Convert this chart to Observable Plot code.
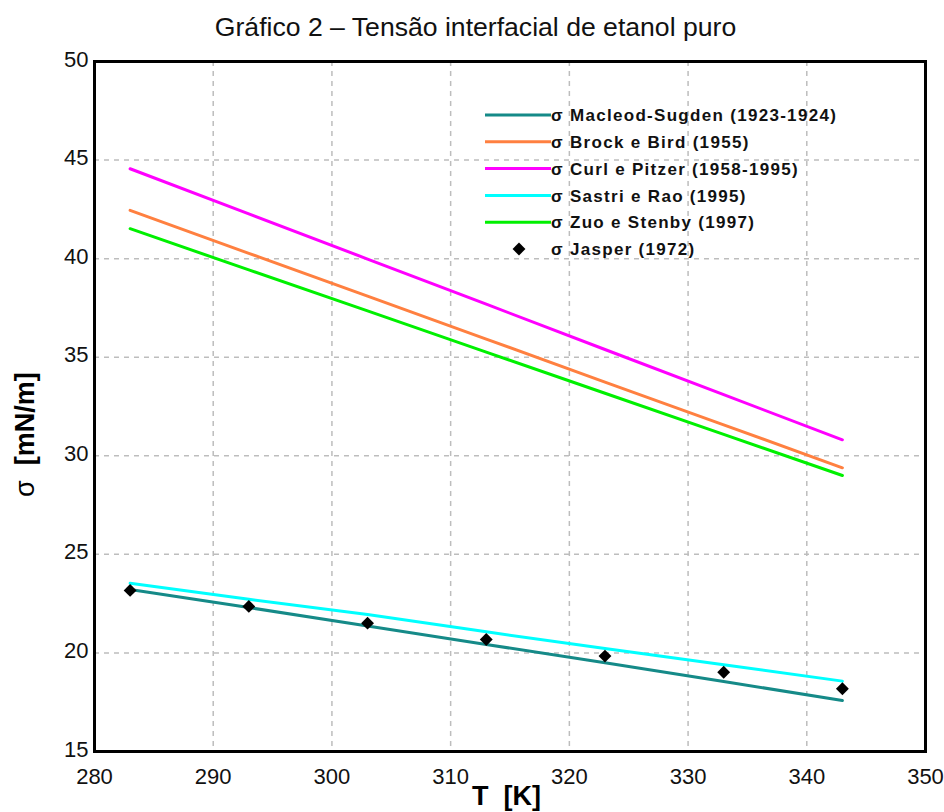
<!DOCTYPE html>
<html>
<head>
<meta charset="utf-8">
<script src="https://cdn.jsdelivr.net/npm/d3@7"></script>
<script src="https://cdn.jsdelivr.net/npm/@observablehq/plot@0.6"></script>
<style>
  html, body { margin: 0; padding: 0; background: #fff; }
  #title {
    width: 944px; height: 44px; box-sizing: border-box;
    padding: 12px 0 0 7px; line-height: 30px; text-align: center;
    font-family: "Liberation Sans", Arial, sans-serif; font-size: 26.6px; color: #111;
  }
  #chart svg { display: block; }
</style>
</head>
<body>
<div id="title">Gráfico 2 – Tensão interfacial de etanol puro</div>
<div id="chart"></div>
<script>
// Temperatures (K) at which each correlation is evaluated
const temps = [283, 293, 303, 313, 323, 333, 343];

// Interfacial tension σ (mN/m) from each correlation
const macleodSugden = [23.22, 22.30, 21.37, 20.43, 19.50, 18.55, 17.59];
const brockBird     = [42.45, 40.27, 38.10, 35.92, 33.74, 31.57, 29.39];
const curlPitzer    = [44.56, 42.27, 39.98, 37.69, 35.39, 33.10, 30.81];
const sastriRao     = [23.54, 22.72, 21.95, 21.07, 20.22, 19.40, 18.57];
const zuoStenby     = [41.52, 39.43, 37.35, 35.26, 33.17, 31.09, 29.00];

// Experimental values
const jasper = [23.17, 22.36, 21.51, 20.68, 19.84, 19.02, 18.18];

// Series names and colours
const seriesNames = [
  "σ Macleod-Sugden (1923-1924)",
  "σ Brock e Bird (1955)",
  "σ Curl e Pitzer (1958-1995)",
  "σ Sastri e Rao (1995)",
  "σ Zuo e Stenby (1997)"
];
const seriesValues = [macleodSugden, brockBird, curlPitzer, sastriRao, zuoStenby];
const seriesColors = ["#158a88", "#ff8040", "#ff00ff", "#00ffff", "#00f000"];
const jasperName = "σ Jasper (1972)";

// Axis ticks
const xTicks = [280, 290, 300, 310, 320, 330, 340, 350];
const yTicks = [15, 20, 25, 30, 35, 40, 45, 50];
const xGrid = [290, 300, 310, 320, 330, 340];
const yGrid = [20, 25, 30, 35, 40, 45];

const gridStyle = {stroke: "#bdbdbd", strokeOpacity: 1, strokeWidth: 1.5, strokeDasharray: "5,5"};
const diamondR = 5.8;

const lines = seriesValues.map((vals, k) =>
  Plot.line(temps, {x: d => d, y: (d, i) => vals[i], stroke: seriesColors[k], strokeWidth: 3})
);

const chart = Plot.plot({
  width: 944,
  height: 768,
  marginTop: 17,
  marginBottom: 61,
  marginLeft: 94,
  marginRight: 19,
  style: {fontFamily: "'Liberation Sans', Arial, sans-serif", fontSize: "22px", color: "#111", background: "#fff", overflow: "visible"},
  x: {domain: [280, 350]},
  y: {domain: [15, 50]},
  marks: [
    Plot.gridX(xGrid, gridStyle),
    Plot.gridY(yGrid, gridStyle),
    ...lines,
    Plot.dot(temps, {x: d => d, y: (d, i) => jasper[i], symbol: "diamond2", r: diamondR, fill: "#000", stroke: "none"}),
    Plot.axisX(xTicks, {tickSize: 0, tickPadding: 17, label: null, fontSize: 22}),
    Plot.axisY(yTicks, {tickSize: 0, tickPadding: 6, label: null, fontSize: 22, dy: -2}),
    Plot.frame({stroke: "#000", strokeWidth: 3})
  ]
});

document.getElementById("chart").appendChild(chart);

const svg = d3.select(chart);
const xs = chart.scale("x");
const font = "'Liberation Sans', Arial, sans-serif";

// x-axis title
svg.append("text")
  .attr("x", (xs.apply(280) + xs.apply(350)) / 2 - 3)
  .attr("y", 761)
  .attr("text-anchor", "middle")
  .attr("font-family", font)
  .attr("font-size", 27)
  .attr("font-weight", "bold")
  .attr("fill", "#000")
  .text("T\u00a0\u00a0[K]");

// y-axis title
const yt = svg.append("text")
  .attr("transform", "translate(34,453) rotate(-90)")
  .attr("text-anchor", "start")
  .attr("font-family", font)
  .attr("font-size", 27)
  .attr("fill", "#000");
yt.append("tspan").text("σ\u00a0\u00a0");
yt.append("tspan").attr("font-weight", "bold").text("[mN/m]");

// legend
const legend = svg.append("g")
  .attr("font-family", font)
  .attr("font-size", 17)
  .attr("font-weight", "bold")
  .attr("letter-spacing", "1.3px")
  .attr("text-anchor", "start")
  .attr("fill", "#111");
const rowY = i => 71 + i * 26.8;
seriesNames.forEach((name, i) => {
  legend.append("line")
    .attr("x1", 485).attr("x2", 551)
    .attr("y1", rowY(i)).attr("y2", rowY(i))
    .attr("stroke", seriesColors[i]).attr("stroke-width", 3);
  legend.append("text").attr("x", 551).attr("y", rowY(i)).attr("dy", "0.36em").text(name);
});
const j = seriesNames.length;
legend.append("path")
  .attr("d", d3.symbol(d3.symbolDiamond2, Math.PI * diamondR * diamondR)())
  .attr("transform", `translate(519,${rowY(j)})`)
  .attr("fill", "#000");
legend.append("text").attr("x", 551).attr("y", rowY(j)).attr("dy", "0.36em").text(jasperName);
</script>
</body>
</html>
